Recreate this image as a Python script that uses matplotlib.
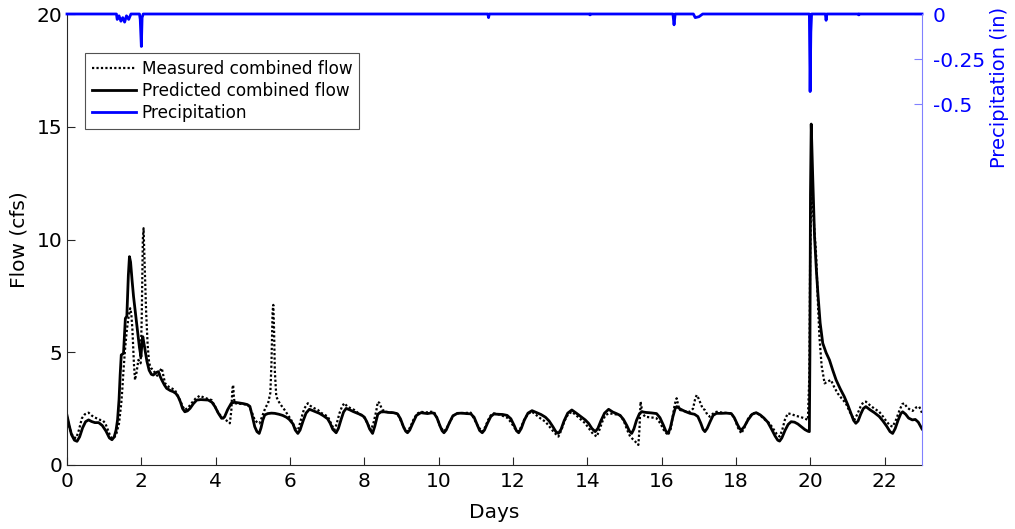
import matplotlib
matplotlib.use("Agg")
import matplotlib.pyplot as plt

# ---------------- data ----------------
pred_days = [
    0.00, 0.06, 0.12, 0.20, 0.27, 0.34, 0.42, 0.50, 0.58, 0.66,
    0.75, 0.85, 0.95, 1.05, 1.14, 1.21, 1.27, 1.32, 1.36, 1.40,
    1.43, 1.46, 1.52, 1.57, 1.61, 1.65, 1.68, 1.71, 1.75, 1.79,
    1.85, 1.90, 1.95, 1.99, 2.02, 2.04, 2.07, 2.10, 2.15, 2.21,
    2.27, 2.32, 2.40, 2.46, 2.50, 2.55, 2.62, 2.68, 2.78, 2.86,
    2.93, 2.99, 3.05, 3.11, 3.17, 3.24, 3.31, 3.40, 3.49, 3.60,
    3.70, 3.80, 3.90, 3.98, 4.07, 4.16, 4.20, 4.24, 4.32, 4.42,
    4.50, 4.60, 4.75, 4.85, 4.92, 4.98, 5.05, 5.11, 5.17, 5.22,
    5.27, 5.32, 5.40, 5.50, 5.59, 5.70, 5.80, 5.90, 5.98, 6.08,
    6.14, 6.21, 6.27, 6.35, 6.43, 6.52, 6.60, 6.70, 6.79, 6.90,
    7.01, 7.08, 7.15, 7.24, 7.30, 7.37, 7.44, 7.51, 7.60, 7.70,
    7.82, 7.92, 8.00, 8.07, 8.14, 8.22, 8.28, 8.36, 8.44, 8.53,
    8.65, 8.78, 8.89, 8.97, 9.05, 9.11, 9.16, 9.22, 9.30, 9.40,
    9.52, 9.60, 9.70, 9.80, 9.87, 9.95, 10.03, 10.09, 10.14, 10.20,
    10.28, 10.38, 10.50, 10.62, 10.74, 10.86, 10.95, 11.03, 11.10, 11.17,
    11.23, 11.31, 11.40, 11.48, 11.60, 11.72, 11.84, 11.94, 12.03, 12.09,
    12.15, 12.22, 12.30, 12.40, 12.51, 12.62, 12.75, 12.87, 12.97, 13.07,
    13.15, 13.22, 13.29, 13.37, 13.47, 13.58, 13.70, 13.82, 13.94, 14.03,
    14.12, 14.21, 14.28, 14.36, 14.46, 14.57, 14.68, 14.78, 14.88, 14.97,
    15.06, 15.13, 15.19, 15.25, 15.32, 15.40, 15.46, 15.58, 15.72, 15.86,
    15.95, 16.04, 16.11, 16.17, 16.23, 16.30, 16.36, 16.40, 16.50, 16.62,
    16.76, 16.88, 16.97, 17.05, 17.11, 17.16, 17.22, 17.30, 17.38, 17.47,
    17.60, 17.74, 17.87, 17.95, 18.04, 18.10, 18.14, 18.22, 18.32, 18.43,
    18.54, 18.65, 18.75, 18.85, 18.95, 19.05, 19.12, 19.17, 19.23, 19.32,
    19.40, 19.48, 19.57, 19.66, 19.75, 19.85, 19.93, 19.97, 19.985, 20.00,
    20.02, 20.06, 20.11, 20.16, 20.20, 20.26, 20.33, 20.42, 20.51, 20.60,
    20.69, 20.80, 20.91, 21.00, 21.09, 21.16, 21.22, 21.28, 21.35, 21.42,
    21.49, 21.60, 21.72, 21.85, 21.95, 22.05, 22.14, 22.21, 22.28, 22.36,
    22.43, 22.48, 22.56, 22.64, 22.74, 22.82, 22.90, 23.00]
pred_flow = [
    2.20, 1.75, 1.35, 1.10, 1.05, 1.25, 1.65, 1.92, 2.00, 1.93,
    1.88, 1.88, 1.75, 1.50, 1.20, 1.12, 1.25, 1.55, 2.00, 2.90,
    4.00, 4.88, 4.95, 6.50, 6.60, 8.40, 9.24, 9.00, 8.20, 7.47,
    6.60, 5.90, 5.20, 4.80, 5.50, 5.69, 5.40, 5.10, 4.60, 4.20,
    4.02, 3.99, 4.10, 4.14, 3.95, 3.77, 3.55, 3.40, 3.30, 3.25,
    3.17, 3.03, 2.80, 2.50, 2.36, 2.40, 2.51, 2.72, 2.88, 2.90,
    2.89, 2.88, 2.78, 2.59, 2.30, 2.07, 2.08, 2.14, 2.45, 2.74,
    2.78, 2.76, 2.72, 2.68, 2.60, 2.20, 1.70, 1.48, 1.40, 1.65,
    2.00, 2.22, 2.28, 2.30, 2.29, 2.25, 2.20, 2.12, 2.02, 1.82,
    1.55, 1.40, 1.55, 1.95, 2.30, 2.47, 2.42, 2.35, 2.29, 2.18,
    2.05, 1.85, 1.58, 1.43, 1.62, 2.00, 2.35, 2.51, 2.45, 2.37,
    2.29, 2.22, 2.12, 1.90, 1.60, 1.40, 1.72, 2.25, 2.35, 2.36,
    2.33, 2.32, 2.27, 2.05, 1.70, 1.50, 1.43, 1.55, 1.85, 2.20,
    2.32, 2.30, 2.28, 2.31, 2.30, 2.10, 1.75, 1.52, 1.43, 1.55,
    1.85, 2.18, 2.29, 2.30, 2.28, 2.27, 2.12, 1.80, 1.53, 1.43,
    1.55, 1.85, 2.15, 2.26, 2.25, 2.24, 2.20, 2.05, 1.75, 1.52,
    1.43, 1.62, 1.98, 2.30, 2.41, 2.33, 2.24, 2.12, 1.95, 1.70,
    1.48, 1.40, 1.58, 1.95, 2.30, 2.44, 2.30, 2.15, 2.00, 1.85,
    1.62, 1.48, 1.62, 1.95, 2.30, 2.47, 2.35, 2.28, 2.20, 2.02,
    1.75, 1.50, 1.40, 1.60, 1.98, 2.28, 2.36, 2.33, 2.31, 2.28,
    2.10, 1.78, 1.50, 1.40, 1.65, 2.15, 2.50, 2.59, 2.48, 2.38,
    2.29, 2.25, 2.15, 1.85, 1.58, 1.48, 1.62, 1.92, 2.20, 2.29,
    2.29, 2.30, 2.28, 2.10, 1.78, 1.60, 1.55, 1.70, 2.00, 2.25,
    2.32, 2.22, 2.08, 1.90, 1.60, 1.28, 1.10, 1.06, 1.20, 1.55,
    1.80, 1.92, 1.90, 1.82, 1.70, 1.57, 1.50, 1.48, 5.00, 12.00,
    15.12, 12.80, 10.10, 8.60, 7.60, 6.30, 5.40, 4.98, 4.66, 4.20,
    3.77, 3.38, 3.03, 2.68, 2.29, 1.98, 1.85, 1.95, 2.25, 2.50,
    2.59, 2.45, 2.32, 2.15, 1.95, 1.72, 1.48, 1.40, 1.62, 2.00,
    2.28, 2.36, 2.25, 2.08, 2.00, 2.02, 1.90, 1.60]

meas_days = [
    0.00, 0.06, 0.12, 0.18, 0.25, 0.32, 0.40, 0.48, 0.58, 0.66,
    0.75, 0.82, 0.89, 0.96, 1.03, 1.10, 1.16, 1.21, 1.27, 1.33,
    1.40, 1.46, 1.49, 1.52, 1.56, 1.61, 1.66, 1.70, 1.73, 1.76,
    1.80, 1.83, 1.87, 1.92, 1.98, 2.01, 2.04, 2.06, 2.09, 2.13,
    2.17, 2.21, 2.26, 2.32, 2.40, 2.46, 2.51, 2.55, 2.60, 2.64,
    2.75, 2.90, 2.97, 3.04, 3.11, 3.17, 3.26, 3.35, 3.46, 3.57,
    3.70, 3.80, 3.89, 3.98, 4.07, 4.16, 4.27, 4.38, 4.42, 4.45,
    4.47, 4.49, 4.51, 4.60, 4.75, 4.87, 4.96, 5.05, 5.12, 5.18,
    5.26, 5.34, 5.41, 5.47, 5.50, 5.53, 5.55, 5.57, 5.59, 5.63,
    5.70, 5.76, 5.85, 5.95, 6.03, 6.10, 6.17, 6.23, 6.30, 6.38,
    6.48, 6.55, 6.65, 6.75, 6.85, 6.94, 7.02, 7.10, 7.19, 7.25,
    7.33, 7.40, 7.46, 7.55, 7.65, 7.73, 7.85, 8.00, 8.08, 8.18,
    8.25, 8.32, 8.36, 8.40, 8.48, 8.58, 8.70, 8.80, 8.89, 8.97,
    9.06, 9.16, 9.24, 9.33, 9.42, 9.52, 9.65, 9.78, 9.87, 9.95,
    10.04, 10.14, 10.22, 10.31, 10.40, 10.50, 10.62, 10.74, 10.86, 10.95,
    11.06, 11.17, 11.24, 11.33, 11.40, 11.48, 11.60, 11.72, 11.84, 11.94,
    12.05, 12.15, 12.22, 12.31, 12.41, 12.51, 12.62, 12.75, 12.87, 12.97,
    13.10, 13.22, 13.30, 13.38, 13.48, 13.58, 13.70, 13.82, 13.94, 14.04,
    14.15, 14.25, 14.32, 14.40, 14.48, 14.57, 14.68, 14.78, 14.88, 14.98,
    15.07, 15.15, 15.28, 15.37, 15.40, 15.43, 15.48, 15.55, 15.65, 15.76,
    15.86, 15.96, 16.07, 16.17, 16.24, 16.30, 16.35, 16.40, 16.45, 16.49,
    16.58, 16.67, 16.76, 16.84, 16.90, 16.94, 16.99, 17.05, 17.10, 17.16,
    17.22, 17.29, 17.38, 17.47, 17.60, 17.74, 17.87, 17.96, 18.05, 18.14,
    18.22, 18.32, 18.43, 18.54, 18.65, 18.78, 18.90, 19.00, 19.09, 19.17,
    19.24, 19.31, 19.39, 19.50, 19.60, 19.71, 19.82, 19.93, 19.97, 19.99,
    20.02, 20.08, 20.15, 20.20, 20.24, 20.30, 20.38, 20.46, 20.55, 20.64,
    20.73, 20.84, 20.95, 21.06, 21.18, 21.26, 21.35, 21.42, 21.49, 21.60,
    21.72, 21.85, 21.95, 22.05, 22.14, 22.21, 22.30, 22.40, 22.47, 22.52,
    22.60, 22.68, 22.75, 22.84, 22.92, 22.97, 23.00]
meas_flow = [
    2.14, 1.70, 1.40, 1.22, 1.20, 1.55, 2.07, 2.25, 2.32, 2.20,
    2.10, 2.06, 2.00, 1.98, 1.85, 1.55, 1.30, 1.18, 1.22, 1.40,
    1.85, 2.74, 3.40, 4.20, 5.10, 5.99, 6.60, 6.95, 6.70, 5.99,
    4.50, 3.77, 4.10, 4.66, 4.51, 6.50, 10.00, 10.50, 8.80, 6.73,
    5.30, 4.51, 4.30, 4.21, 4.00, 3.92, 4.20, 4.29, 3.90, 3.62,
    3.45, 3.33, 3.10, 2.88, 2.60, 2.44, 2.55, 2.74, 2.95, 3.07,
    2.98, 2.93, 2.88, 2.60, 2.30, 2.14, 2.00, 1.85, 2.40, 3.40,
    3.55, 3.00, 2.74, 2.72, 2.70, 2.66, 2.40, 2.00, 1.88, 1.85,
    2.20, 2.55, 2.74, 3.20, 4.50, 6.80, 7.10, 6.00, 4.20, 3.03,
    2.80, 2.65, 2.45, 2.20, 2.00, 1.75, 1.55, 1.63, 2.05, 2.50,
    2.74, 2.62, 2.52, 2.44, 2.30, 2.22, 2.14, 1.85, 1.55, 1.80,
    2.30, 2.60, 2.74, 2.58, 2.50, 2.44, 2.28, 2.10, 1.85, 1.55,
    1.90, 2.40, 2.80, 2.76, 2.45, 2.36, 2.33, 2.31, 2.29, 2.00,
    1.65, 1.48, 1.70, 2.05, 2.28, 2.36, 2.33, 2.36, 2.36, 2.10,
    1.70, 1.48, 1.65, 1.95, 2.20, 2.29, 2.30, 2.31, 2.32, 2.05,
    1.70, 1.48, 1.65, 2.00, 2.20, 2.29, 2.25, 2.18, 2.10, 1.90,
    1.62, 1.48, 1.70, 2.05, 2.28, 2.36, 2.22, 2.05, 1.92, 1.72,
    1.45, 1.26, 1.55, 1.95, 2.25, 2.36, 2.20, 2.02, 1.85, 1.62,
    1.38, 1.26, 1.55, 1.92, 2.20, 2.29, 2.27, 2.24, 2.20, 1.95,
    1.55, 1.26, 1.05, 0.89, 1.60, 2.81, 2.30, 2.14, 2.12, 2.10,
    2.07, 1.85, 1.50, 1.33, 1.60, 2.20, 2.70, 2.96, 2.60, 2.44,
    2.40, 2.38, 2.36, 2.50, 2.95, 3.10, 2.95, 2.70, 2.50, 2.44,
    2.25, 2.14, 2.28, 2.36, 2.33, 2.31, 2.29, 2.05, 1.65, 1.40,
    1.65, 2.05, 2.28, 2.32, 2.20, 2.00, 1.85, 1.60, 1.38, 1.26,
    1.55, 2.00, 2.29, 2.25, 2.18, 2.14, 2.08, 2.00, 4.00, 9.00,
    12.00, 11.00, 9.39, 7.20, 5.69, 4.40, 3.62, 3.70, 3.77, 3.45,
    3.18, 2.95, 2.74, 2.35, 2.00, 2.25, 2.60, 2.78, 2.81, 2.65,
    2.50, 2.36, 2.15, 1.92, 1.75, 1.70, 2.00, 2.45, 2.70, 2.74,
    2.55, 2.45, 2.40, 2.55, 2.59, 2.45, 2.30]

precip_days = [0.00, 1.33, 1.35, 1.40, 1.45, 1.50, 1.55, 1.60, 1.66, 1.72, 1.95, 1.97, 2.00, 2.02, 2.05,
               11.32, 11.34, 11.36, 14.06, 14.07, 14.08, 16.30, 16.33, 16.36, 16.85, 16.90, 17.00, 17.10,
               19.97, 19.99, 20.01, 20.03, 20.40, 20.42, 20.44, 21.29, 21.30, 21.31, 23.00]
precip_in = [0.00, 0.00, -0.03, -0.01, -0.04, -0.02, -0.045, -0.01, -0.03, 0.00, 0.00, -0.03, -0.18, -0.02, 0.00,
             0.00, -0.02, 0.00, 0.00, -0.005, 0.00, 0.00, -0.06, 0.00, 0.00, -0.02, -0.015, 0.00,
             0.00, -0.43, -0.10, 0.00, 0.00, -0.035, 0.00, 0.00, -0.005, 0.00, 0.00]

x_ticks = [0, 2, 4, 6, 8, 10, 12, 14, 16, 18, 20, 22]
y_ticks = [0, 5, 10, 15, 20]
p_ticks = [-0.5, -0.25, 0]
p_ticklabels = ["-0.5", "-0.25", "0"]

n_p = min(len(pred_days), len(pred_flow))
n_m = min(len(meas_days), len(meas_flow))
n_r = min(len(precip_days), len(precip_in))

# ---------------- figure ----------------
plt.rcParams['font.family'] = ['DejaVu Sans']
fig = plt.figure(figsize=(10.15, 5.29), dpi=100)
ax = fig.add_axes([67/1015, 1 - 465/529, (922-67)/1015, (465-14)/529])
ax2 = ax.twinx()

l_meas, = ax.plot(meas_days[:n_m], meas_flow[:n_m], color='black', lw=1.6, linestyle=(0, (1, 1)),
                  label='Measured combined flow')
l_pred, = ax.plot(pred_days[:n_p], pred_flow[:n_p], color='black', lw=2.0,
                  solid_joinstyle='round', label='Predicted combined flow')
l_prec, = ax2.plot(precip_days[:n_r], precip_in[:n_r], color='#0000ff', lw=2.0,
                   label='Precipitation', clip_on=False)

ax.set_xlim(0, 23)
ax.set_ylim(0, 20)
ax2.set_ylim(-2.5, 0)
ax.set_xticks(x_ticks)
ax.set_yticks(y_ticks)
ax2.set_yticks(p_ticks)
ax2.set_yticklabels(p_ticklabels)

ax.tick_params(axis='both', direction='in', labelsize=14.5, length=6, width=0.8, color='#262626')
ax.tick_params(axis='x', pad=5)
ax2.tick_params(axis='y', direction='in', labelsize=14.5, length=6, width=0.8,
                color='#8080ff', labelcolor='#0000ff', pad=8)

ax.spines['top'].set_visible(False)
ax2.spines['top'].set_visible(False)
ax2.spines['left'].set_visible(False)
ax2.spines['bottom'].set_visible(False)
ax.spines['right'].set_visible(False)
ax2.spines['right'].set_color('#8080ff')
ax.spines['left'].set_color('#262626')
ax.spines['bottom'].set_color('#262626')

ax.set_xlabel('Days', fontsize=14.5, labelpad=9)
ax.set_ylabel('Flow (cfs)', fontsize=14.5, labelpad=6)
ax2.set_ylabel('Precipitation (in)', fontsize=14, color='#0000ff', rotation=90)
ax2.yaxis.set_label_coords((990-67)/855, (465-87)/451)

leg = ax.legend(handles=[l_meas, l_pred, l_prec], loc='upper left',
                bbox_to_anchor=((85-67)/855, (465-53)/451), borderaxespad=0,
                fontsize=12.2, frameon=True, fancybox=False, edgecolor='#262626',
                handlelength=2.6, handletextpad=0.35, borderpad=0.4, labelspacing=0.25)
leg.get_frame().set_linewidth(0.8)

fig.savefig('out.png', dpi=100)
